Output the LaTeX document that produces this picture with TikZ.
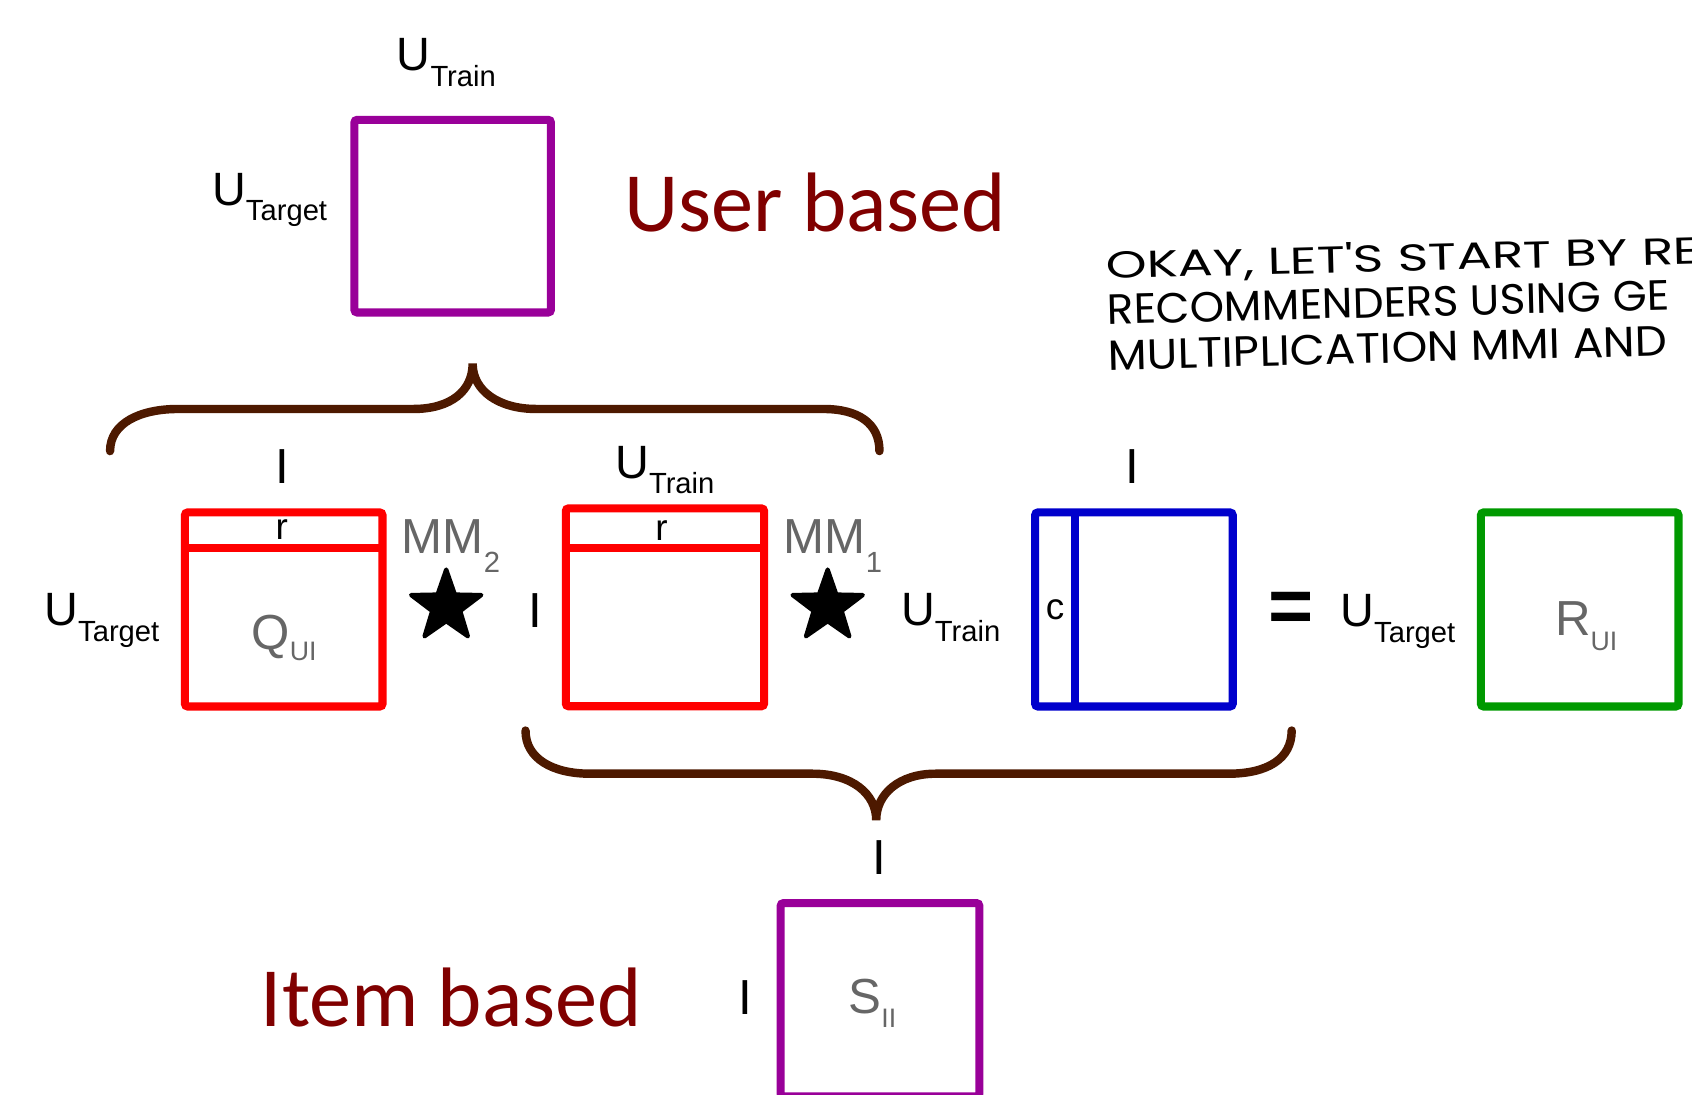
\documentclass[tikz,border=0pt]{standalone}
\usepackage{fontspec}
\setmainfont{Liberation Sans}
\newfontfamily\calibri{Carlito}
\newfontfamily\handfont{Poppins}
\usepackage{graphicx}
\usetikzlibrary{shapes.geometric}

\definecolor{matpurple}{RGB}{153,0,153}
\definecolor{matred}{RGB}{255,0,0}
\definecolor{matblue}{RGB}{0,0,204}
\definecolor{matgreen}{RGB}{0,153,0}
\definecolor{bracebrown}{RGB}{77,25,0}
\definecolor{titlered}{RGB}{128,0,0}
\definecolor{labelgray}{RGB}{102,102,102}

\newcommand{\idx}[3][-4.5pt]{#2\raisebox{#1}{\fontsize{8.3}{9}\selectfont #3}}
\newcommand{\gidx}[3][-4pt]{#2\raisebox{#1}{\fontsize{7.6}{9}\selectfont #3}}

\tikzset{
  matbox/.style={draw, line width=2.3pt, rounded corners=0.8pt, outer sep=0pt, inner sep=0pt,
    minimum width=56.2pt, minimum height=55.2pt},
  dimlbl/.style={inner sep=0pt, anchor=base west, font=\fontsize{13.3}{16}\selectfont},
  dimbar/.style={inner sep=0pt, font=\fontsize{14}{16}\selectfont},
  idxlbl/.style={inner sep=0pt, anchor=base west, text=labelgray, font=\fontsize{14}{16}\selectfont},
  cellname/.style={inner sep=0pt, font=\fontsize{10.5}{12}\selectfont},
  heading/.style={inner sep=0pt, anchor=base west, text=titlered, font=\calibri\fontsize{24}{28}\selectfont},
  starop/.style={star, star points=5, star point ratio=2.5, fill=black, draw=black, line width=1.2pt,
    line join=round, minimum size=21pt, inner sep=0pt},
  bracepath/.style={draw=bracebrown, line width=2.4pt, line cap=round},
  scrawl/.style={inner sep=0pt, anchor=north west, align=left, font=\handfont\fontsize{10}{13}\selectfont}
}

\begin{document}
\begin{tikzpicture}[x=0.010791cm, y=-0.010791cm]
\useasboundingbox (0,0) rectangle (1568,1014);

\node[matbox, draw=matpurple, minimum width=55.9pt, minimum height=54.8pt] (suu) at (419.5,200.3) {};
\node[dimlbl] (suutop) at (367,65.5) {\idx{U}{Train}};
\node[dimlbl] (suuleft) at (196,190) {\idx{U}{Target}};
\node[heading] (user) at (578,214.7) {User based};

\draw[bracepath] (102,418) .. controls (102,392) and (130,379) .. (165,379) -- (383,379)
  .. controls (418,379) and (438,362) .. (438,337)
  .. controls (438,362) and (462,379) .. (497,379) -- (763,379)
  .. controls (795,379) and (815,392) .. (815,418);

\node[matbox, draw=matred] (qui) at (262.9,564.8) {};
\draw[matred, line width=2.3pt] ([yshift=-10pt]qui.north west) -- ([yshift=-10pt]qui.north east);
\node[dimbar] (qtop) at (261.5,432.5) {I};
\node[cellname] (qr) at (261,491) {r};
\node[idxlbl] (qlbl) at (232.4,602) {\gidx[-3pt]{Q}{UI}};
\node[dimlbl] (qleft) at (40.5,580) {\idx{U}{Target}};

\node[idxlbl] (mm2) at (371.7,512.8) {\idx[-5.4pt]{MM}{2}};
\node[starop] (star2) at (413.5,562) {};

\node[matbox, draw=matred, minimum width=56.4pt, minimum height=56.3pt] (iuu) at (616.2,562.8) {};
\draw[matred, line width=2.3pt] ([yshift=-11.2pt]iuu.north west) -- ([yshift=-11.2pt]iuu.north east);
\node[dimbar] (ileft) at (496,566) {I};
\node[dimlbl] (itop) at (569.5,443) {\idx{U}{Train}};
\node[cellname] (ir) at (613,491.5) {r};

\node[idxlbl] (mm1) at (725.7,512.8) {\idx[-5.4pt]{MM}{1}};
\node[starop] (star1) at (767,562) {};

\node[matbox, draw=matblue] (uui) at (1050.8,564.8) {};
\draw[matblue, line width=2.3pt] ([xshift=11.4pt]uui.north west) -- ([xshift=11.4pt]uui.south west);
\node[dimbar] (utop) at (1049,432.5) {I};
\node[dimlbl] (uleft) at (834.5,580) {\idx{U}{Train}};
\node[cellname] (uc) at (977.7,565) {c};

\node[inner sep=0pt, font=\bfseries\fontsize{22}{22}\selectfont] (eq) at (1196.5,567.5) {=};

\node[matbox, draw=matgreen] (rui) at (1463.9,564.8) {};
\node[dimlbl] (rleft) at (1241.5,580.7) {\idx{U}{Target}};
\node[idxlbl] (rlbl) at (1440.4,588.5) {\gidx[-4.5pt]{R}{UI}};

\draw[bracepath] (487,677) .. controls (487,703) and (512,717) .. (547,717) -- (753,717)
  .. controls (790,717) and (812,736) .. (812,760)
  .. controls (812,736) and (833,717) .. (867,717) -- (1138,717)
  .. controls (1175,717) and (1197,703) .. (1197,677);

\node[matbox, draw=matpurple, minimum width=56.5pt, minimum height=55pt] (sii) at (815.5,926.5) {};
\node[dimbar] (stop) at (815,795) {I};
\node[dimbar] (sleft) at (690.5,924.3) {I};
\node[idxlbl] (slbl) at (785.7,939) {\gidx{S}{II}};
\node[heading] (item) at (241,950.8) {Item based};

\node[scrawl, rotate=1.47] (note) at (1024,230) {\resizebox{169pt}{8.5pt}{OKAY, LET'S START BY RE}\\
  \resizebox{160pt}{8.5pt}{RECOMMENDERS USING GE}\\
  \resizebox{159pt}{8.5pt}{MULTIPLICATION MMI AND}};
\end{tikzpicture}
\end{document}
